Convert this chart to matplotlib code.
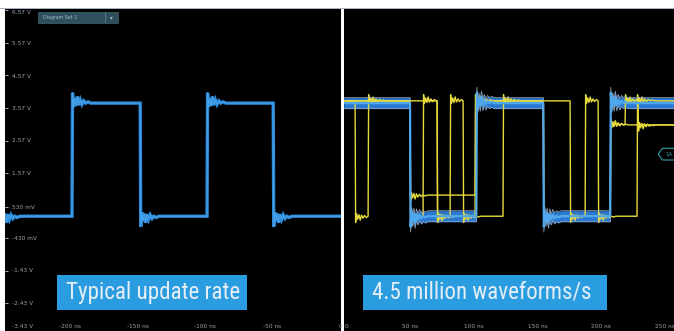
import numpy as np
import matplotlib.pyplot as plt
from matplotlib import font_manager as fm
from matplotlib.patches import Rectangle, Polygon
import matplotlib.transforms as mtransforms

W, H = 674, 331

# voltage axis (shared by both panels)
volt_ticks = [6.57, 5.57, 4.57, 3.57, 2.57, 1.57, 0.53, -0.43, -1.43, -2.43, -3.43]
volt_labels = ["6.57 V", "5.57 V", "4.57 V", "3.57 V", "2.57 V", "1.57 V",
               "530 mV", "-430 mV", "-1.43 V", "-2.43 V", "-3.43 V"]

left_time_ticks = [-200, -150, -100, -50, 0]
left_time_labels = ["-200 ns", "-150 ns", "-100 ns", "-50 ns", "0"]
right_time_ticks = [0, 50, 100, 150, 200, 250]
right_time_labels = ["0", "50 ns", "100 ns", "150 ns", "200 ns", "250 ns"]

# clock channel (blue): edge times in ns and the level after each edge
blue_left_edges = [-251, -198.5, -148, -98.5, -49.5]
blue_left_levels = [3.72, 0.24, 3.72, 0.24, 3.72, 0.24]
blue_right_edges = [50, 102, 154.5, 207]
blue_right_levels = [3.72, 0.24, 3.72, 0.24, 3.72]

# data channel (yellow), several captured acquisitions
yel1_edges = [6.9, 17.1, 71.2, 81.4, 91.6, 122.9, 175.5, 187.3, 197.5, 228]
yel1_levels = [3.79, 0.24, 3.79, 0.24, 3.79, 0.24, 3.79, 0.24, 3.79, 0.24, 3.79]
yel2_edges = [50, 101, 154.5, 207]
yel2_levels = [3.79, 0.89, 3.79, 0.24, 3.05]
yel3_edges = [50, 60.2, 71.2, 101, 154.5, 207, 218.6, 228.8]
yel3_levels = [3.79, 0.24, 3.79, 0.24, 3.79, 0.24, 3.05, 3.79, 3.05]

# ringing after an edge: offset (ns) and overshoot (V)
ring_dt = [0.0, 0.8, 1.6, 2.6, 3.6, 4.6, 5.8, 7.0, 8.4, 9.8, 11.5, 13.5]
ring_dv = [0.32, -0.12, 0.15, -0.08, 0.20, -0.06, 0.10, -0.04, 0.07, 0.0, 0.04, 0.0]

trigger_level = 2.15


def trace(edges, levels, t0, t1, gain=1.0, rise=0.4):
    t = [t0]
    v = [levels[0]]
    for i, te in enumerate(edges):
        a, b = levels[i], levels[i + 1]
        nxt = edges[i + 1] if i + 1 < len(edges) else t1
        t.append(te)
        v.append(a)
        sign = 1 if b > a else -1
        for dt, dv in zip(ring_dt, ring_dv):
            if te + rise + dt < nxt:
                t.append(te + rise + dt)
                v.append(b + sign * dv * gain)
    t.append(t1)
    v.append(levels[-1])
    return np.array(t), np.array(v)


def fx(px):
    return px / W


def fy(py):
    return 1 - py / H


# narrowest sans available for the captions
have = {f.name for f in fm.fontManager.ttflist}
big_font = [n for n in ["Liberation Sans Narrow", "DejaVu Sans Condensed",
                        "Roboto Condensed", "Roboto"] if n in have][:1] + ["DejaVu Sans"]

fig = plt.figure(figsize=(W / 100, H / 100), dpi=100, facecolor="white")

top_px, bot_px = 8, 336
ax1 = fig.add_axes([fx(5), fy(bot_px), fx(336), (bot_px - top_px) / H])
ax2 = fig.add_axes([fx(344), fy(bot_px), fx(330), (bot_px - top_px) / H])

ylo = 3.57 - (bot_px - 108) / 32.5
yhi = 3.57 + (108 - top_px) / 32.5

for ax in (ax1, ax2):
    ax.set_facecolor("black")
    ax.set_ylim(ylo, yhi)
    for s in ax.spines.values():
        s.set_visible(False)

ax1.set_xlim(-248.1, 0.7)
ax2.set_xlim(-1.8, 257)

# left panel: typical update rate
t, v = trace(blue_left_edges, blue_left_levels, -252, 1)
ax1.plot(t, v, color="#2b8ad8", lw=2.4, solid_joinstyle="miter")
ax1.plot(t, v, color="#45a0ea", lw=0.8)

ax1.set_yticks(volt_ticks, volt_labels)
ax1.tick_params(axis="y", direction="in", length=2.5, width=0.6, color="#c8ccd0",
                pad=-5, labelsize=4.2, labelcolor="#9aa2aa")
ylabs = ax1.get_yticklabels()
for lab in ylabs:
    lab.set_horizontalalignment("left")
ylabs[0].set_verticalalignment("top")
ylabs[-1].set_verticalalignment("bottom")
ylabs[-1].set_transform(ylabs[-1].get_transform() +
                        mtransforms.ScaledTranslation(0, 5 / 72, fig.dpi_scale_trans))

ax1.set_xticks(left_time_ticks, left_time_labels)
ax1.tick_params(axis="x", direction="in", length=0, pad=-9, labelsize=4.2,
                labelcolor="#9aa2aa")

# right panel: 4.5 million waveforms/s
for edges, levels in [(yel3_edges, yel3_levels), (yel2_edges, yel2_levels),
                      (yel1_edges, yel1_levels)]:
    t, v = trace(edges, levels, -2, 258, gain=0.6)
    ax2.plot(t, v, color="#e6da3c", lw=1.0)

t, v = trace(blue_right_edges, blue_right_levels, -2, 258, gain=1.0)
w = 0.17
ax2.fill_between(t, v - w, v + w, color="#2a78d2", lw=0)
ax2.plot(t, v + w, color="#9aaabb", lw=0.5)
ax2.plot(t, v - w, color="#9aaabb", lw=0.5)
ax2.plot(t, v, color="#4fa8ee", lw=1.6)

ax2.set_yticks([])
ax2.set_xticks(right_time_ticks, right_time_labels)
ax2.tick_params(axis="x", direction="in", length=0, pad=-9, labelsize=4.2,
                labelcolor="#9aa2aa")

# trigger level marker
trans = mtransforms.blended_transform_factory(ax2.transAxes, ax2.transData)
dy = 0.18
tag = Polygon([[0.952, trigger_level], [0.965, trigger_level + dy], [1.01, trigger_level + dy],
               [1.01, trigger_level - dy], [0.965, trigger_level - dy]],
              closed=True, fill=False, edgecolor="#3a9ea8", lw=0.8, transform=trans,
              clip_on=False)
ax2.add_patch(tag)
ax2.text(0.975, trigger_level, "1A", transform=trans, color="#3a9ea8", fontsize=4,
         va="center", ha="left")

# top strip line
fig.add_artist(Rectangle((0, fy(9)), 1, 1.2 / H, transform=fig.transFigure,
                         color="#aab4c0", lw=0))

# diagram set selector
fig.add_artist(Rectangle((fx(38), fy(23)), fx(80), 11 / H, transform=fig.transFigure,
                         facecolor="#2e4f5c", edgecolor="#46646e", lw=0.5))
fig.add_artist(Rectangle((fx(105), fy(23)), 0.6 / W, 11 / H, transform=fig.transFigure,
                         color="#5a7880", lw=0))
fig.text(fx(43), fy(17.5), "Diagram Set 1", fontsize=3.4, color="#a9bcc4", va="center")
fig.text(fx(111), fy(17.5), "▾", fontsize=4, color="#a9bcc4", va="center", ha="center")

# caption boxes
for x0, x1, txt in [(57, 247, "Typical update rate"), (363, 607, "4.5 million waveforms/s")]:
    fig.add_artist(Rectangle((fx(x0), fy(310)), fx(x1 - x0), 35 / H,
                             transform=fig.transFigure, color="#2a9de0", lw=0))
    fig.text(fx(x0 + 9), fy(292.5), txt, fontsize=16.6, color="#e6eef5",
             va="center", ha="left", family=big_font)

fig.savefig("out.png", dpi=100, facecolor="white")
